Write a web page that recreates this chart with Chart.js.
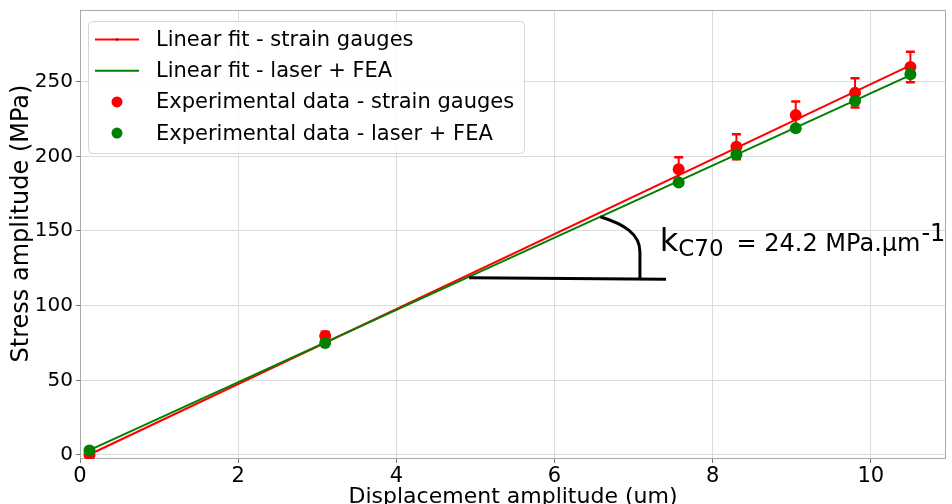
<!DOCTYPE html>
<html>
<head>
<meta charset="utf-8">
<script src="https://cdn.jsdelivr.net/npm/chart.js@4/dist/chart.umd.min.js"></script>
<style>
  html, body { margin: 0; padding: 0; background: #fff; }
  canvas { display: block; }
</style>
</head>
<body>
<canvas id="chart" width="952" height="504"></canvas>
<script>
// Measured stress amplitude vs. displacement amplitude
const displacement   = [0.12, 3.1, 7.57, 8.3, 9.05, 9.8, 10.5];
const stressGauges   = [0, 79.6, 191.4, 206.4, 227.6, 242.5, 259.8];
const gaugesError    = [0.5, 3, 8, 8.4, 9.2, 9.8, 10.2];
const stressLaserFea = [3, 75, 182.5, 201.2, 218.8, 237, 255];

// Linear fits, evaluated at the ends of the measured range
const fitRange    = [0.12, 10.5];
const fitGauges   = [0.3, 260.9];
const fitLaserFea = [3.2, 254.4];

const xTickValues = [0, 2, 4, 6, 8, 10];
const yTickValues = [0, 50, 100, 150, 200, 250];

const seriesLabels = [
  'Linear fit - strain gauges',
  'Linear fit - laser + FEA',
  'Experimental data - strain gauges',
  'Experimental data - laser + FEA'
];
const yTitle = 'Stress amplitude (MPa)';
const slopeLabel = { k: 'k', sub: 'C70', main: '= 24.2 MPa.\u00b5m', sup: '-1' };

// Angle marker drawn against the laser + FEA fit (data units)
const angleMark = {
  baseFrom: [4.92, 118.7], baseTo: [7.41, 117.6],
  arcFrom: [6.58, 159.5], arcCp1: [6.88, 154.5], arcCp2: [7.08, 148],
  arcMid: [7.08, 136], arcEnd: [7.08, 118.2],
  text: [7.33, 136.5]
};

const RED = '#ff0000';
const GREEN = '#008000';
const FONT = "'DejaVu Sans', sans-serif";

const toPoints = (xs, ys) => xs.map((x, i) => ({ x, y: ys[i] }));

const errorBars = {
  id: 'errorBars',
  beforeDatasetDraw(chart, args) {
    if (args.index !== 2) return;
    const { ctx, scales: { x, y } } = chart;
    ctx.save();
    ctx.strokeStyle = RED;
    displacement.forEach((d, i) => {
      const px = x.getPixelForValue(d);
      const top = y.getPixelForValue(stressGauges[i] + gaugesError[i]);
      const bot = y.getPixelForValue(stressGauges[i] - gaugesError[i]);
      ctx.lineWidth = 2;
      ctx.beginPath();
      ctx.moveTo(px, top); ctx.lineTo(px, bot);
      ctx.stroke();
      ctx.lineWidth = 2.5;
      ctx.beginPath();
      ctx.moveTo(px - 4.5, top); ctx.lineTo(px + 4.5, top);
      ctx.moveTo(px - 4.5, bot); ctx.lineTo(px + 4.5, bot);
      ctx.stroke();
    });
    ctx.restore();
  }
};

const frame = {
  id: 'frame',
  beforeDatasetsDraw(chart) {
    const { ctx, chartArea: a } = chart;
    ctx.save();
    ctx.strokeStyle = '#a8a8a8';
    ctx.lineWidth = 1;
    ctx.strokeRect(a.left + 0.5, a.top + 0.5, a.right - a.left - 1, a.bottom - a.top - 1);
    ctx.restore();
  }
};

// Rotated y-axis title, placed slightly above the axis centre
const yAxisTitle = {
  id: 'yAxisTitle',
  afterDraw(chart) {
    const { ctx, chartArea: a } = chart;
    ctx.save();
    ctx.translate(22, (a.top + a.bottom) / 2 - 11);
    ctx.rotate(-Math.PI / 2);
    ctx.font = `24px ${FONT}`;
    ctx.fillStyle = '#000';
    ctx.textAlign = 'center';
    ctx.textBaseline = 'middle';
    ctx.fillText(yTitle, 0, 0);
    ctx.restore();
  }
};

const legendBox = {
  id: 'legendBox',
  afterDraw(chart) {
    const { ctx, chartArea: a } = chart;
    const left = a.left + 8, top = a.top + 11, w = 436, h = 132;
    ctx.save();
    ctx.beginPath();
    ctx.roundRect(left + 0.5, top + 0.5, w, h, 4);
    ctx.fillStyle = 'rgba(255,255,255,0.85)';
    ctx.fill();
    ctx.strokeStyle = '#d6d6d6';
    ctx.lineWidth = 1;
    ctx.stroke();
    [0, 1, 2, 3].forEach((di, row) => {
      const ds = chart.data.datasets[di];
      const cy = top + 18.5 + row * 31.2;
      if (ds.showLine) {
        ctx.strokeStyle = ds.borderColor;
        ctx.lineWidth = 2;
        ctx.beginPath();
        ctx.moveTo(left + 7, cy); ctx.lineTo(left + 51, cy);
        ctx.stroke();
        if (di === 0) {
          // small point marker on the strain-gauge fit sample
          ctx.fillStyle = '#b00000';
          ctx.beginPath();
          ctx.arc(left + 29, cy, 1.3, 0, Math.PI * 2);
          ctx.fill();
        }
      } else {
        ctx.fillStyle = ds.backgroundColor;
        ctx.beginPath();
        ctx.arc(left + 29, cy, 5.5, 0, Math.PI * 2);
        ctx.fill();
      }
      ctx.fillStyle = '#000';
      ctx.font = `21px ${FONT}`;
      ctx.textBaseline = 'middle';
      ctx.textAlign = 'left';
      ctx.fillText(ds.label, left + 68, cy + 1);
    });
    ctx.restore();
  }
};

const slopeNote = {
  id: 'slopeNote',
  afterDraw(chart) {
    const { ctx, scales: { x, y } } = chart;
    const P = p => [x.getPixelForValue(p[0]), y.getPixelForValue(p[1])];
    ctx.save();
    ctx.strokeStyle = '#000';
    ctx.lineWidth = 3;
    const a = P(angleMark.baseFrom), b = P(angleMark.baseTo);
    ctx.beginPath(); ctx.moveTo(a[0], a[1]); ctx.lineTo(b[0], b[1]); ctx.stroke();
    const s = P(angleMark.arcFrom), c1 = P(angleMark.arcCp1), c2 = P(angleMark.arcCp2),
          m = P(angleMark.arcMid), e = P(angleMark.arcEnd);
    ctx.beginPath();
    ctx.moveTo(s[0], s[1]);
    ctx.bezierCurveTo(c1[0], c1[1], c2[0], c2[1], m[0], m[1]);
    ctx.lineTo(e[0], e[1]);
    ctx.stroke();

    const t = P(angleMark.text);
    ctx.fillStyle = '#000';
    ctx.textBaseline = 'alphabetic';
    ctx.textAlign = 'left';
    let cx = t[0];
    ctx.font = `32px ${FONT}`;
    ctx.fillText(slopeLabel.k, cx, t[1]);
    cx += ctx.measureText(slopeLabel.k).width;
    ctx.font = `23px ${FONT}`;
    ctx.fillText(slopeLabel.sub, cx, t[1] + 5);
    cx += ctx.measureText(slopeLabel.sub).width + 13;
    ctx.font = `24px ${FONT}`;
    ctx.fillText(slopeLabel.main, cx, t[1]);
    cx += ctx.measureText(slopeLabel.main).width + 1;
    ctx.font = `24px ${FONT}`;
    ctx.fillText(slopeLabel.sup, cx, t[1] - 10);
    ctx.restore();
  }
};

Chart.defaults.font.family = FONT;
Chart.defaults.color = '#000';

const noEdgePadding = s => {
  s.paddingTop = 0; s.paddingBottom = 0; s.paddingLeft = 0; s.paddingRight = 0;
};

new Chart(document.getElementById('chart'), {
  type: 'scatter',
  data: {
    datasets: [
      { label: seriesLabels[0], data: toPoints(fitRange, fitGauges), showLine: true,
        borderColor: RED, backgroundColor: RED, borderWidth: 2, pointRadius: 0, order: 3 },
      { label: seriesLabels[1], data: toPoints(fitRange, fitLaserFea), showLine: true,
        borderColor: GREEN, backgroundColor: GREEN, borderWidth: 2, pointRadius: 0, order: 2 },
      { label: seriesLabels[2], data: toPoints(displacement, stressGauges), showLine: false,
        borderColor: RED, backgroundColor: RED, borderWidth: 0, pointRadius: 6, order: 1 },
      { label: seriesLabels[3], data: toPoints(displacement, stressLaserFea), showLine: false,
        borderColor: GREEN, backgroundColor: GREEN, borderWidth: 0, pointRadius: 6, order: 0 }
    ]
  },
  options: {
    responsive: false,
    animation: false,
    layout: { padding: { top: 10, right: 4, left: 0, bottom: 0 } },
    plugins: { legend: { display: false }, tooltip: { enabled: false } },
    scales: {
      x: {
        type: 'linear', min: 0, max: 10.95,
        afterBuildTicks: s => { s.ticks = xTickValues.map(v => ({ value: v })); },
        afterFit: s => { s.height = 45; noEdgePadding(s); },
        grid: { color: '#dcdcdc', lineWidth: 1, tickLength: 4, tickColor: '#777' },
        border: { display: false },
        ticks: { font: { size: 21 }, padding: 1, color: '#000', maxRotation: 0 },
        title: { display: true, text: 'Displacement amplitude (um)', font: { size: 22 },
                 padding: { top: 0, bottom: -6 }, color: '#000' }
      },
      y: {
        type: 'linear', min: -2.7, max: 298,
        afterBuildTicks: s => { s.ticks = yTickValues.map(v => ({ value: v })); },
        afterFit: s => { s.width = 80; noEdgePadding(s); },
        grid: { color: '#dcdcdc', lineWidth: 1, tickLength: 4, tickColor: '#777' },
        border: { display: false },
        ticks: { font: { size: 20 }, padding: 3, color: '#000' },
        title: { display: false }
      }
    }
  },
  plugins: [frame, errorBars, slopeNote, legendBox, yAxisTitle]
});
</script>
</body>
</html>
